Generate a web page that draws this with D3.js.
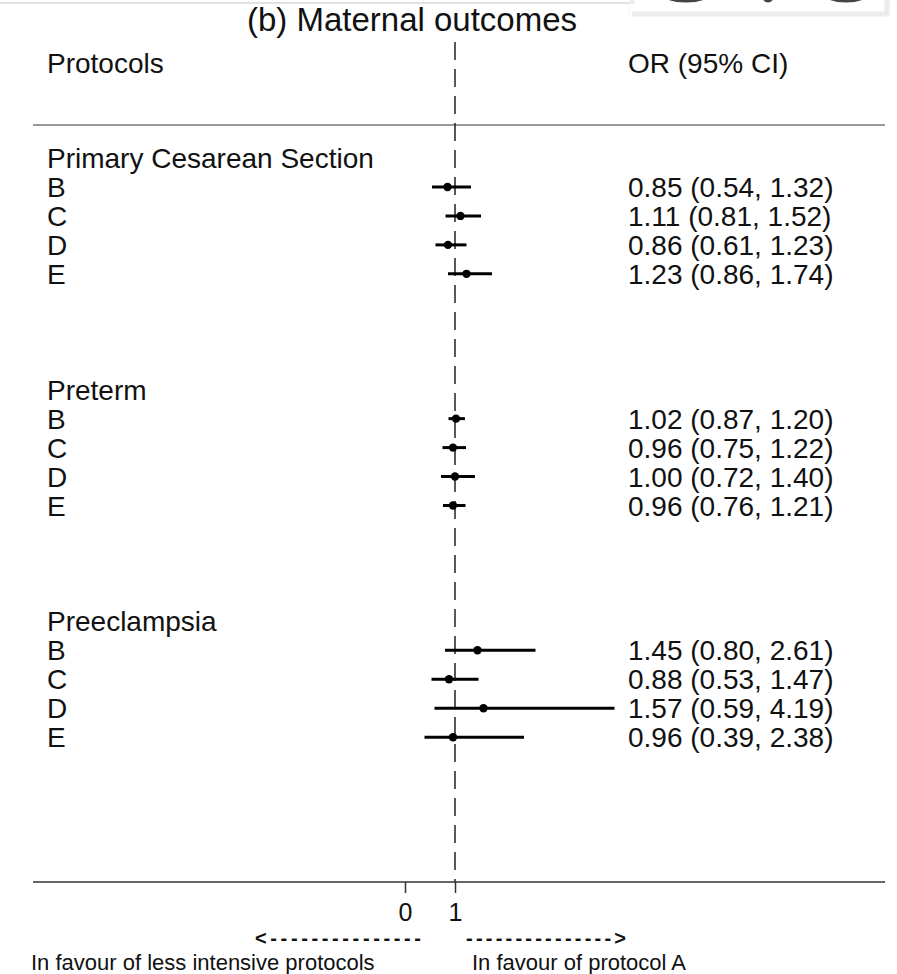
<!DOCTYPE html>
<html>
<head>
<meta charset="utf-8">
<script src="https://d3js.org/d3.v7.min.js"></script>
<style>
  html, body { margin: 0; padding: 0; background: #fff; }
  svg { display: block; }
  text { font-family: "Liberation Sans", Arial, sans-serif; fill: #111; }
</style>
</head>
<body>
<svg id="chart" width="897" height="974"></svg>
<script>
// ---------- data ----------
const title = "(b) Maternal outcomes";
const groups = ["Primary Cesarean Section", "Preterm", "Preeclampsia"];
const protocols = ["B", "C", "D", "E"];

const orPrimary = [0.85, 1.11, 0.86, 1.23];
const lowPrimary = [0.54, 0.81, 0.61, 0.86];
const highPrimary = [1.32, 1.52, 1.23, 1.74];

const orPreterm = [1.02, 0.96, 1.00, 0.96];
const lowPreterm = [0.87, 0.75, 0.72, 0.76];
const highPreterm = [1.20, 1.22, 1.40, 1.21];

const orPreeclampsia = [1.45, 0.88, 1.57, 0.96];
const lowPreeclampsia = [0.80, 0.53, 0.59, 0.39];
const highPreeclampsia = [2.61, 1.47, 4.19, 2.38];

const tickValues = [0, 1];
const tickLabels = ["0", "1"];
const leftNote = "In favour of less intensive protocols";
const rightNote = "In favour of protocol A";

// ---------- build rows ----------
const orAll = [orPrimary, orPreterm, orPreeclampsia];
const lowAll = [lowPrimary, lowPreterm, lowPreeclampsia];
const highAll = [highPrimary, highPreterm, highPreeclampsia];
const slotsPerGroup = 8;
const headers = [];
const rows = [];
groups.forEach((g, gi) => {
  const base = gi * slotsPerGroup;
  headers.push({ label: g, slot: base });
  protocols.forEach((p, pi) => {
    rows.push({ label: p, slot: base + 1 + pi,
      or: orAll[gi][pi], lo: lowAll[gi][pi], hi: highAll[gi][pi] });
  });
});

// ---------- scales ----------
const svg = d3.select("#chart");
const x = d3.scaleLinear().domain([0, 1]).range([405, 455]);
const y = d3.scaleLinear().domain([0, 25]).range([158, 882]);
const fmt = d3.format(".2f");
const leftX = 47, rightX = 628, lineL = 33, lineR = 885;
const axisY = y(25);

// top-right artifact (cropped neighbouring panel)
const art = svg.append("g");
art.append("line").attr("x1", 0).attr("x2", 632).attr("y1", 3).attr("y2", 3)
  .attr("stroke", "#e2e2e2").attr("stroke-width", 2);
art.append("rect").attr("x", 632).attr("y", -10).attr("width", 255).attr("height", 25)
  .attr("fill", "#fff").attr("stroke", "#ececec").attr("stroke-width", 5);
[[686, 26], [768, 6], [846, 24]].forEach(([cx, rx]) => {
  art.append("ellipse").attr("cx", cx).attr("cy", -9).attr("rx", rx).attr("ry", 10)
    .attr("fill", "none").attr("stroke", "#444").attr("stroke-width", 3);
});
art.append("rect").attr("x", 630).attr("y", 4).attr("width", 260).attr("height", 20).attr("fill", "#fff");
art.append("line").attr("x1", 632).attr("x2", 887).attr("y1", 14).attr("y2", 14)
  .attr("stroke", "#ececec").attr("stroke-width", 5);
art.append("line").attr("x1", 887).attr("x2", 887).attr("y1", 0).attr("y2", 16)
  .attr("stroke", "#ececec").attr("stroke-width", 5);

// title
svg.append("text").attr("x", 412).attr("y", 31).attr("text-anchor", "middle")
  .attr("font-size", 33).text(title);

// column headers
svg.append("text").attr("x", leftX).attr("y", 73).attr("font-size", 28).text("Protocols");
svg.append("text").attr("x", rightX).attr("y", 73).attr("font-size", 28).text("OR (95% CI)");

// separator
svg.append("line").attr("x1", lineL).attr("x2", lineR).attr("y1", 125).attr("y2", 125)
  .attr("stroke", "#9a9a9a").attr("stroke-width", 2);

// null line
svg.append("line").attr("x1", x(1)).attr("x2", x(1)).attr("y1", 42).attr("y2", axisY)
  .attr("stroke", "#222").attr("stroke-width", 1.5).attr("stroke-dasharray", "18,9");

// group headers
svg.selectAll(".hdr").data(headers).enter().append("text")
  .attr("class", "hdr").attr("x", leftX).attr("y", d => y(d.slot) + 10)
  .attr("font-size", 28).text(d => d.label);

// row labels
svg.selectAll(".lab").data(rows).enter().append("text")
  .attr("x", leftX).attr("y", d => y(d.slot) + 10)
  .attr("font-size", 28).text(d => d.label);

// CI lines
svg.selectAll(".ci").data(rows).enter().append("line")
  .attr("x1", d => x(d.lo)).attr("x2", d => x(d.hi))
  .attr("y1", d => y(d.slot)).attr("y2", d => y(d.slot))
  .attr("stroke", "#000").attr("stroke-width", 3);

// point estimates
svg.selectAll(".pt").data(rows).enter().append("circle")
  .attr("cx", d => x(d.or)).attr("cy", d => y(d.slot)).attr("r", 4.2)
  .attr("fill", "#000");

// CI text
svg.selectAll(".citxt").data(rows).enter().append("text")
  .attr("x", rightX).attr("y", d => y(d.slot) + 10)
  .attr("font-size", 28)
  .text(d => `${fmt(d.or)} (${fmt(d.lo)}, ${fmt(d.hi)})`);

// axis
svg.append("line").attr("x1", lineL).attr("x2", lineR).attr("y1", axisY).attr("y2", axisY)
  .attr("stroke", "#333").attr("stroke-width", 1.5);
const axis = d3.axisBottom(x).tickValues(tickValues).tickFormat((d, i) => tickLabels[i])
  .tickSize(11).tickPadding(10);
const ax = svg.append("g").attr("transform", `translate(0,${axisY})`).call(axis);
ax.select(".domain").remove();
ax.selectAll(".tick line").attr("stroke", "#333").attr("stroke-width", 1.5);
ax.selectAll(".tick text").attr("font-size", 25).attr("fill", "#111")
  .attr("font-family", "Liberation Sans, Arial, sans-serif")
  .attr("dy", null).attr("y", 39);

// arrows
svg.append("text").attr("x", 255).attr("y", 945).attr("font-size", 20)
  .attr("textLength", 166).attr("lengthAdjust", "spacing")
  .attr("font-weight", "bold").text("<---------------");
svg.append("text").attr("x", 466).attr("y", 945).attr("font-size", 20)
  .attr("textLength", 160).attr("lengthAdjust", "spacing")
  .attr("font-weight", "bold").text("--------------->");

// notes
svg.append("text").attr("x", 31).attr("y", 970).attr("font-size", 22).text(leftNote);
svg.append("text").attr("x", 472).attr("y", 970).attr("font-size", 22).text(rightNote);
</script>
</body>
</html>
